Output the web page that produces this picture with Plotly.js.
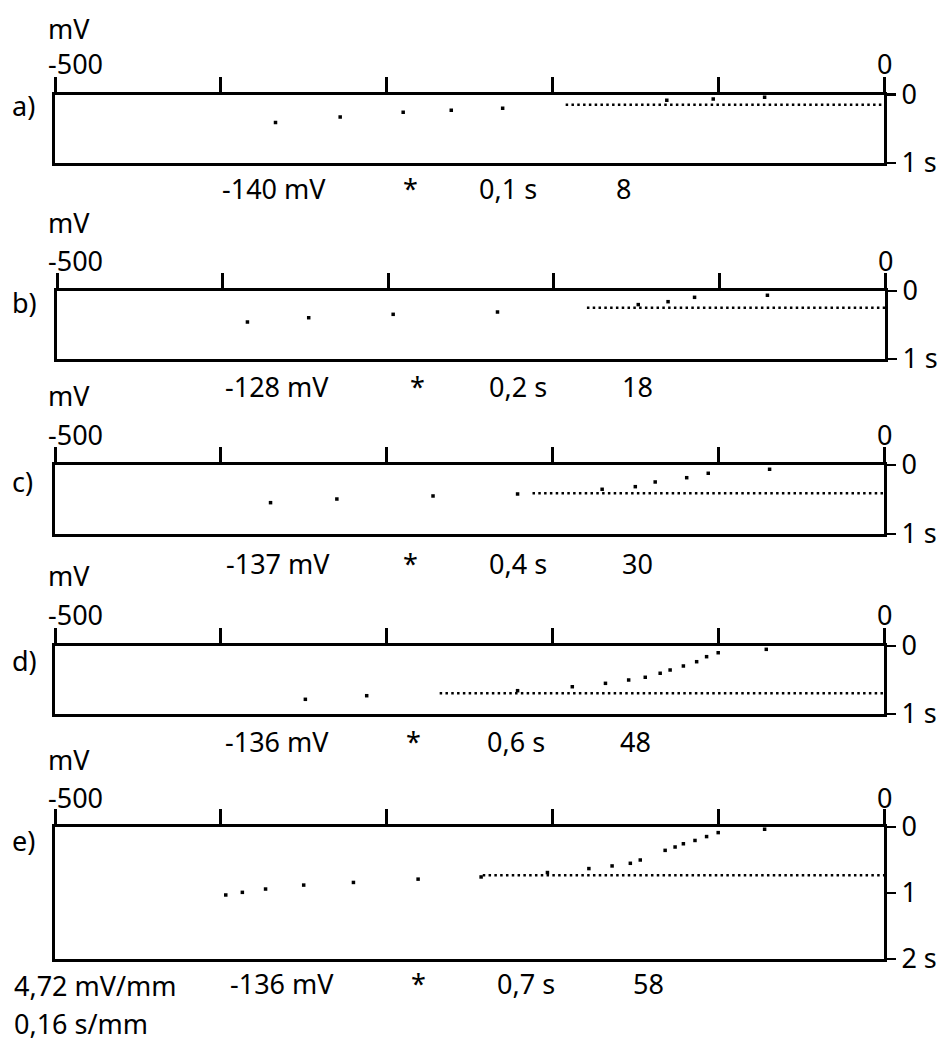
<!DOCTYPE html>
<html>
<head>
<meta charset="utf-8">
<script src="https://cdn.plot.ly/plotly-3.0.1.min.js"></script>
<style>html,body{margin:0;padding:0;background:#fff;}#chart{width:940px;height:1043px;}</style>
</head>
<body>
<div id="chart"></div>
<script>
// ---- data ----
const panelLetters = ['a)', 'b)', 'c)', 'd)', 'e)'];
const potentialLabels = ['-140 mV', '-128 mV', '-137 mV', '-136 mV', '-136 mV'];
const durationLabels = ['0,1 s', '0,2 s', '0,4 s', '0,6 s', '0,7 s'];
const countLabels = ['8', '18', '30', '48', '58'];
const xTickVals = [-500, -400, -300, -200, -100, 0];
const xTickText = ['', '', '', '', '', ''];
const xEndLabels = ['-500', '0'];
const timeMax = [1, 1, 1, 1, 2];

const aVoltage = [-367, -328, -290, -261, -230, -131, -103, -72];
const aTime = [0.41, 0.33, 0.26, 0.23, 0.20, 0.085, 0.066, 0.04];
const bVoltage = [-385, -348, -297, -234, -149, -131, -115, -71];
const bTime = [0.456, 0.393, 0.343, 0.309, 0.20, 0.157, 0.093, 0.063];
const cVoltage = [-370, -330, -272, -221, -170, -150, -138, -119, -106, -69];
const cTime = [0.546, 0.493, 0.449, 0.42, 0.352, 0.314, 0.246, 0.184, 0.12, 0.062];
const dVoltage = [-349, -312, -221, -188, -168, -154, -144, -135, -129, -121, -113, -107, -100, -71];
const dTime = [0.784, 0.731, 0.657, 0.599, 0.549, 0.50, 0.46, 0.401, 0.353, 0.294, 0.231, 0.157, 0.099, 0.049];
const eVoltage = [-397, -387, -373, -350, -320, -281, -243, -203, -178, -164, -153, -147, -132, -126, -121, -114, -107, -100, -72];
const eTime = [1.03, 0.99, 0.94, 0.88, 0.84, 0.79, 0.757, 0.69, 0.63, 0.59, 0.55, 0.50, 0.354, 0.303, 0.254, 0.204, 0.145, 0.085, 0.034];
const thresholdStart = [-192, -180, -212, -268, -242];
const thresholdTime = [0.149, 0.246, 0.41, 0.696, 0.73];
const scaleNotes = ['4,72 mV/mm', '0,16 s/mm'];

const voltages = [aVoltage, bVoltage, cVoltage, dVoltage, eVoltage];
const times = [aTime, bTime, cTime, dTime, eTime];

// ---- layout geometry (pixels) ----
const W = 940, H = 1043;
const frames = [
  {l: 55, r: 884, t: 94.5, b: 163, letterY: 106, mvY: 29, endY: 63, botY: 189, cols: [274, 410, 508, 623]},
  {l: 57, r: 885, t: 291, b: 359, letterY: 303, mvY: 222, endY: 260, botY: 386, cols: [277, 417, 518, 637]},
  {l: 55, r: 884, t: 465, b: 534, letterY: 481, mvY: 396, endY: 434, botY: 563, cols: [278, 410, 518, 637]},
  {l: 55, r: 884, t: 646, b: 714, letterY: 660, mvY: 575, endY: 614, botY: 741, cols: [277, 413, 516, 635]},
  {l: 55, r: 884, t: 827, b: 959, letterY: 840, mvY: 759, endY: 797, botY: 983, cols: [282, 418, 526, 648]}
];
const px = x => x / W;
const py = y => 1 - y / H;
const FONT = {family: 'Noto Sans, Open Sans, sans-serif', size: 27, color: '#000'};

const traces = [];
const layout = {
  width: W, height: H,
  margin: {l: 0, r: 0, t: 0, b: 0},
  paper_bgcolor: '#fff', plot_bgcolor: '#fff',
  showlegend: false,
  font: FONT,
  annotations: []
};

frames.forEach((f, i) => {
  const n = i + 1;
  const xa = n === 1 ? 'x' : 'x' + n;
  const ya = n === 1 ? 'y' : 'y' + n;
  traces.push({
    x: [thresholdStart[i], 0], y: [thresholdTime[i], thresholdTime[i]],
    xaxis: xa, yaxis: ya, mode: 'lines', hoverinfo: 'skip',
    line: {color: '#000', width: 2.5, dash: '2.5px,3.3px'}
  });
  traces.push({
    x: voltages[i], y: times[i], xaxis: xa, yaxis: ya, mode: 'markers',
    marker: {symbol: 'square', size: 3.5, color: '#000', line: {width: 0}}
  });
  const yTicks = [];
  const yText = [];
  for (let k = 0; k <= timeMax[i]; k++) {
    yTicks.push(k);
    yText.push(k === timeMax[i] ? k + ' s' : String(k));
  }
  layout['xaxis' + (n === 1 ? '' : n)] = {
    domain: [px(f.l), px(f.r)], anchor: ya, side: 'top',
    range: [-500, 0], showgrid: false, zeroline: false,
    showline: true, linecolor: '#000', linewidth: 3, mirror: true,
    ticks: 'outside', ticklen: 15, tickwidth: 3, tickcolor: '#000',
    tickvals: xTickVals, ticktext: xTickText, showticklabels: false, fixedrange: true
  };
  layout['yaxis' + (n === 1 ? '' : n)] = {
    domain: [py(f.b), py(f.t)], anchor: xa, side: 'right',
    range: [timeMax[i], 0], showgrid: false, zeroline: false,
    showline: true, linecolor: '#000', linewidth: 3, mirror: true,
    ticks: 'outside', ticklen: 9, tickwidth: 2.5, tickcolor: '#000',
    tickvals: yTicks, ticktext: yText, tickfont: FONT, fixedrange: true
  };
  const ann = (text, x, y, xanchor) => layout.annotations.push({
    text: text, xref: 'paper', yref: 'paper', x: px(x), y: py(y),
    xanchor: xanchor || 'center', yanchor: 'middle', showarrow: false, font: FONT
  });
  ann('mV', 46, f.mvY, 'left');
  ann(xEndLabels[0], 46, f.endY, 'left');
  ann(xEndLabels[1], f.r, f.endY, 'center');
  ann(panelLetters[i], 10, f.letterY, 'left');
  ann(potentialLabels[i], f.cols[0], f.botY);
  ann('*', f.cols[1], f.botY);
  ann(durationLabels[i], f.cols[2], f.botY);
  ann(countLabels[i], f.cols[3], f.botY);
});
layout.annotations.push({text: scaleNotes[0], xref: 'paper', yref: 'paper', x: px(12), y: py(985),
  xanchor: 'left', yanchor: 'middle', showarrow: false, font: FONT});
layout.annotations.push({text: scaleNotes[1], xref: 'paper', yref: 'paper', x: px(12), y: py(1023),
  xanchor: 'left', yanchor: 'middle', showarrow: false, font: FONT});

Plotly.newPlot('chart', traces, layout, {displayModeBar: false, staticPlot: true});
</script>
</body>
</html>
